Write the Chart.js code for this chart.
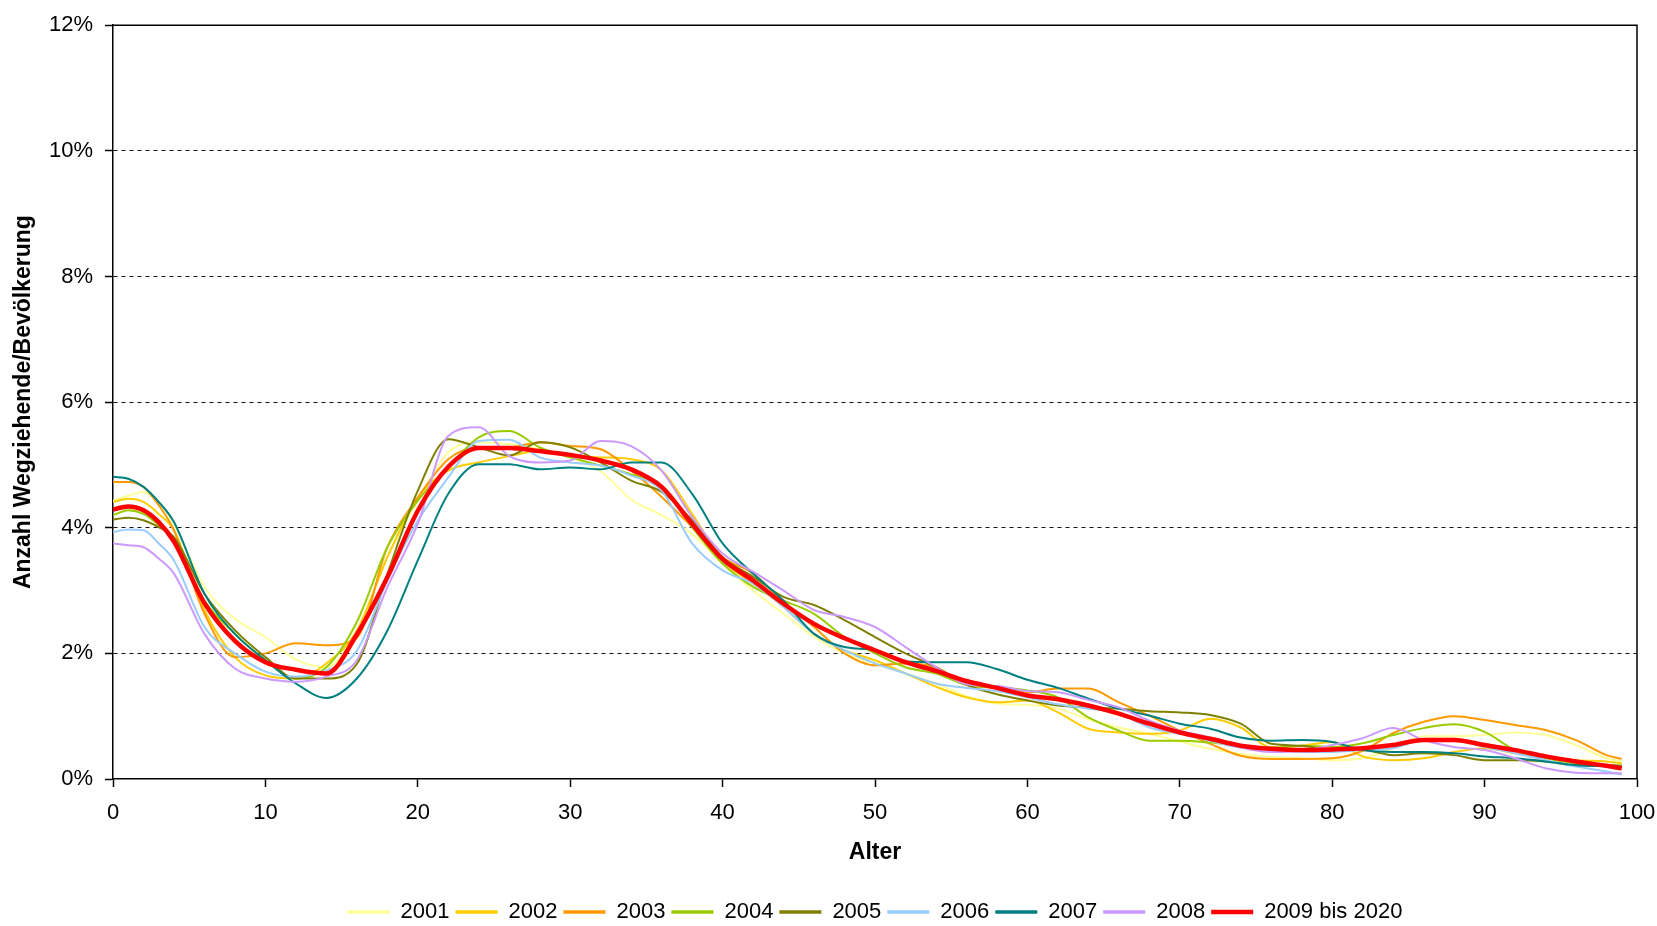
<!DOCTYPE html>
<html>
<head>
<meta charset="utf-8">
<title>Wegziehende nach Alter</title>
<script src="https://cdn.jsdelivr.net/npm/chart.js@4.4.1/dist/chart.umd.min.js"></script>
<style>
    html, body { margin: 0; padding: 0; background: #fff; }
    #wrap { width: 1657px; height: 926px; }
</style>
</head>
<body>
<div id="wrap"><canvas id="chartWegzug"></canvas></div>
<script>
// Alter (x) and share of people moving away, in percent
const ages = [0, 1, 2, 3, 4, 6, 8, 10, 12, 14, 16, 18, 20, 22, 24, 26, 28, 30, 32, 34, 36, 38, 40, 42, 44, 46, 48,
    50, 52, 54, 56, 58, 60, 62, 64, 66, 68, 70, 72, 74, 76, 78, 80, 82, 84, 86, 88, 90, 92, 94, 96, 98, 99];

const y2001 = [4.43, 4.51, 4.57, 4.41, 4.06, 3.06, 2.55, 2.26, 1.90, 1.78, 2.36, 3.53, 4.43, 5.20, 5.36, 5.33, 5.25,
    5.12, 4.90, 4.45, 4.20, 3.90, 3.43, 3.00, 2.63, 2.26, 2.00, 1.84, 1.68, 1.52, 1.32, 1.20, 1.18, 1.12, 0.95, 0.82,
    0.72, 0.60, 0.48, 0.40, 0.35, 0.33, 0.30, 0.33, 0.49, 0.68, 0.68, 0.70, 0.74, 0.70, 0.54, 0.33, 0.28];
const y2002 = [4.41, 4.46, 4.41, 4.22, 3.96, 2.69, 1.94, 1.65, 1.60, 1.84, 2.36, 3.53, 4.48, 4.91, 5.04, 5.14, 5.22,
    5.14, 5.12, 5.09, 4.91, 4.22, 3.48, 3.11, 2.74, 2.31, 2.05, 1.89, 1.68, 1.47, 1.30, 1.22, 1.25, 1.06, 0.80, 0.74,
    0.72, 0.77, 0.96, 0.82, 0.50, 0.53, 0.59, 0.36, 0.30, 0.33, 0.43, 0.49, 0.41, 0.36, 0.30, 0.28, 0.25];
const y2003 = [4.73, 4.73, 4.65, 4.36, 3.96, 2.63, 1.94, 2.00, 2.16, 2.13, 2.25, 3.69, 4.48, 5.09, 5.28, 5.28, 5.36,
    5.30, 5.25, 4.91, 4.49, 4.01, 3.53, 3.27, 2.82, 2.42, 2.00, 1.81, 1.84, 1.78, 1.50, 1.45, 1.38, 1.44, 1.44, 1.22,
    1.01, 0.77, 0.56, 0.37, 0.32, 0.32, 0.33, 0.45, 0.73, 0.91, 1.00, 0.94, 0.86, 0.78, 0.62, 0.38, 0.32];
const y2004 = [4.20, 4.28, 4.22, 4.04, 3.80, 2.84, 2.31, 1.89, 1.60, 1.78, 2.50, 3.69, 4.43, 4.96, 5.44, 5.54, 5.28,
    5.12, 4.99, 4.85, 4.65, 4.01, 3.43, 3.06, 2.84, 2.63, 2.26, 2.00, 1.78, 1.68, 1.50, 1.46, 1.41, 1.30, 0.98, 0.77,
    0.61, 0.61, 0.58, 0.53, 0.50, 0.53, 0.51, 0.57, 0.70, 0.81, 0.87, 0.75, 0.46, 0.33, 0.25, 0.22, 0.21];
const y2005 = [4.13, 4.16, 4.12, 4.01, 3.85, 2.95, 2.37, 1.94, 1.60, 1.60, 1.83, 3.26, 4.59, 5.41, 5.28, 5.15, 5.36,
    5.28, 5.04, 4.75, 4.57, 4.12, 3.53, 3.22, 2.90, 2.77, 2.53, 2.26, 2.00, 1.78, 1.50, 1.35, 1.25, 1.17, 1.14, 1.12,
    1.08, 1.06, 1.02, 0.88, 0.56, 0.53, 0.46, 0.46, 0.38, 0.41, 0.38, 0.30, 0.30, 0.28, 0.22, 0.22, 0.21];
const y2006 = [3.93, 3.97, 3.96, 3.75, 3.48, 2.42, 2.00, 1.71, 1.63, 1.73, 2.04, 3.16, 4.11, 4.80, 5.38, 5.40, 5.12,
    5.04, 4.99, 4.83, 4.59, 3.75, 3.32, 3.11, 2.74, 2.31, 2.05, 1.84, 1.68, 1.52, 1.45, 1.40, 1.30, 1.19, 1.12, 1.04,
    0.82, 0.72, 0.61, 0.50, 0.48, 0.43, 0.43, 0.46, 0.49, 0.62, 0.62, 0.51, 0.41, 0.30, 0.20, 0.12, 0.07];
const y2007 = [4.81, 4.78, 4.65, 4.41, 4.09, 2.95, 2.31, 1.89, 1.52, 1.29, 1.60, 2.36, 3.48, 4.54, 5.01, 5.01, 4.93,
    4.96, 4.93, 5.04, 5.04, 4.54, 3.75, 3.27, 2.84, 2.31, 2.10, 2.05, 1.87, 1.86, 1.86, 1.75, 1.58, 1.45, 1.28, 1.12,
    1.01, 0.88, 0.80, 0.66, 0.61, 0.62, 0.59, 0.46, 0.43, 0.43, 0.41, 0.36, 0.33, 0.28, 0.22, 0.20, 0.19];
const y2008 = [3.75, 3.72, 3.69, 3.51, 3.27, 2.31, 1.76, 1.60, 1.55, 1.63, 1.89, 3.05, 4.06, 5.46, 5.60, 5.14, 5.04,
    5.07, 5.38, 5.30, 4.91, 4.17, 3.59, 3.30, 3.00, 2.69, 2.58, 2.42, 2.10, 1.78, 1.51, 1.48, 1.40, 1.38, 1.26, 1.14,
    0.93, 0.77, 0.66, 0.50, 0.43, 0.45, 0.54, 0.65, 0.81, 0.62, 0.51, 0.46, 0.33, 0.17, 0.10, 0.09, 0.09];
const y2009bis2020 = [4.29, 4.34, 4.28, 4.09, 3.78, 2.80, 2.20, 1.86, 1.74, 1.68, 2.30, 3.21, 4.27, 4.97, 5.27, 5.27,
    5.22, 5.16, 5.07, 4.93, 4.65, 4.06, 3.50, 3.16, 2.79, 2.47, 2.24, 2.05, 1.86, 1.72, 1.56, 1.45, 1.33, 1.27, 1.17,
    1.04, 0.88, 0.74, 0.64, 0.53, 0.48, 0.46, 0.47, 0.49, 0.54, 0.62, 0.62, 0.54, 0.46, 0.36, 0.28, 0.21, 0.17];

const seriesNames = ['2001', '2002', '2003', '2004', '2005', '2006', '2007', '2008', '2009 bis 2020'];
const xTicks = [0, 10, 20, 30, 40, 50, 60, 70, 80, 90, 100];
const yTicks = [0, 2, 4, 6, 8, 10, 12];

(function() {
    const fontFamily = '"Liberation Sans", Arial, Helvetica, sans-serif';

    function toPoints(values) {
        return values.map(function(v, i) {
            return { x: ages[i], y: v };
        });
    }

    function makeLine(label, values, color, width, order) {
        return {
            type: 'line',
            label: label,
            data: toPoints(values),
            borderColor: color,
            backgroundColor: color,
            borderWidth: width,
            pointRadius: 0,
            pointHoverRadius: 0,
            cubicInterpolationMode: 'monotone',
            fill: false,
            order: order
        };
    }

    // top and right edge of the plot frame
    const framePlugin = {
        id: 'frame',
        afterDraw: function(chart) {
            const area = chart.chartArea;
            const ctx = chart.ctx;
            ctx.save();
            ctx.strokeStyle = '#000';
            ctx.lineWidth = 1.5;
            ctx.beginPath();
            ctx.moveTo(area.left, area.top);
            ctx.lineTo(area.right, area.top);
            ctx.lineTo(area.right, area.bottom);
            ctx.stroke();
            ctx.restore();
        }
    };

    // center the legend under the plot area, not the whole canvas
    const legendShiftPlugin = {
        id: 'legendShift',
        afterLayout: function(chart) {
            const lg = chart.legend;
            const area = chart.chartArea;
            if (!lg) return;
            const dx = (area.left + area.right) / 2 - (lg.left + lg.right) / 2;
            lg.left += dx;
            lg.right += dx;
            lg.top += 7;
            lg.bottom += 7;
        }
    };

    function renderChart() {
        const canvas = document.getElementById('chartWegzug');

        const datasets = [
            makeLine(seriesNames[0], y2001, '#FFFF99', 2, 8),
            makeLine(seriesNames[1], y2002, '#FFCC00', 2, 7),
            makeLine(seriesNames[2], y2003, '#FF9900', 2, 6),
            makeLine(seriesNames[3], y2004, '#99CC00', 2, 5),
            makeLine(seriesNames[4], y2005, '#808000', 2, 4),
            makeLine(seriesNames[5], y2006, '#99CCFF', 2, 3),
            makeLine(seriesNames[6], y2007, '#008080', 2, 2),
            makeLine(seriesNames[7], y2008, '#CC99FF', 2, 1),
            makeLine(seriesNames[8], y2009bis2020, '#FF0000', 4.5, 0)
        ];

        window.wegzugChart = new Chart(canvas, {
            type: 'line',
            data: { datasets: datasets },
            plugins: [framePlugin, legendShiftPlugin],
            options: {
                responsive: true,
                maintainAspectRatio: false,
                animation: false,
                devicePixelRatio: 1,
                layout: {
                    padding: { top: 24, right: 20, bottom: 0, left: 0 }
                },
                scales: {
                    x: {
                        type: 'linear',
                        min: 0,
                        max: 100,
                        afterBuildTicks: function(axis) {
                            axis.ticks = xTicks.map(function(v) { return { value: v }; });
                        },
                        afterFit: function(axis) {
                            axis.height = 109;
                            axis.paddingLeft = 0;
                            axis.paddingRight = 0;
                        },
                        ticks: {
                            color: '#000',
                            padding: 13,
                            maxRotation: 0,
                            font: { family: fontFamily, size: 22 }
                        },
                        grid: {
                            drawOnChartArea: false,
                            drawTicks: true,
                            tickLength: 8,
                            tickColor: '#000',
                            tickWidth: 1.5
                        },
                        border: { display: true, color: '#000', width: 1.5 },
                        title: {
                            display: true,
                            text: 'Alter',
                            color: '#000',
                            padding: { top: 0, bottom: 22 },
                            font: { family: fontFamily, size: 23, weight: 'bold' }
                        }
                    },
                    y: {
                        type: 'linear',
                        min: 0,
                        max: 12,
                        afterBuildTicks: function(axis) {
                            axis.ticks = yTicks.map(function(v) { return { value: v }; });
                        },
                        afterFit: function(axis) { axis.width = 113; },
                        ticks: {
                            color: '#000',
                            padding: 12,
                            font: { family: fontFamily, size: 22 },
                            callback: function(value) { return value + '%'; }
                        },
                        grid: {
                            color: function(ctx) {
                                const v = ctx.tick ? ctx.tick.value : 0;
                                return (v === 0 || v === 12) ? 'rgba(0,0,0,0)' : '#111';
                            },
                            lineWidth: 1,
                            tickLength: 8,
                            tickColor: '#000',
                            tickWidth: 1.5
                        },
                        border: { display: true, color: '#000', width: 1.5, dash: [4, 4] },
                        title: {
                            display: true,
                            text: 'Anzahl Wegziehende/Bevölkerung',
                            color: '#000',
                            padding: { top: 10, bottom: 0 },
                            font: { family: fontFamily, size: 23, weight: 'bold' }
                        }
                    }
                },
                plugins: {
                    legend: {
                        display: true,
                        position: 'bottom',
                        labels: {
                            color: '#000',
                            usePointStyle: true,
                            pointStyle: 'line',
                            pointStyleWidth: 42,
                            padding: 6,
                            font: { family: fontFamily, size: 22 },
                            sort: function(a, b) { return a.datasetIndex - b.datasetIndex; },
                            generateLabels: function(chart) {
                                const items = Chart.defaults.plugins.legend.labels.generateLabels(chart);
                                items.forEach(function(item) {
                                    item.lineWidth = Math.max(item.lineWidth, 3.5);
                                });
                                return items;
                            }
                        }
                    },
                    tooltip: { enabled: false }
                }
            }
        });
    }

    renderChart();
})();
</script>
</body>
</html>
